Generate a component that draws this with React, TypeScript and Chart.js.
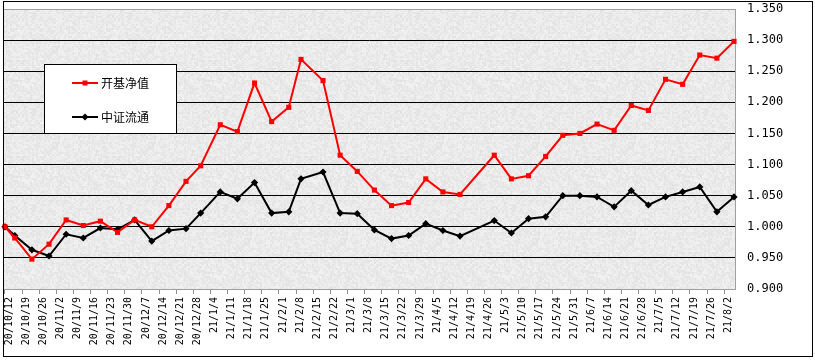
import React, { useEffect, useRef } from 'react';
import { Chart, registerables } from 'chart.js';

Chart.register(...registerables);

// ---- data ----
const seriesNames = ['开基净值', '中证流通'];

const pointDates = [
  '2020-10-12', '2020-10-16', '2020-10-23', '2020-10-30', '2020-11-06', '2020-11-13',
  '2020-11-20', '2020-11-27', '2020-12-04', '2020-12-11', '2020-12-18', '2020-12-25',
  '2020-12-31', '2021-01-08', '2021-01-15', '2021-01-22', '2021-01-29', '2021-02-05',
  '2021-02-10', '2021-02-19', '2021-02-26', '2021-03-05', '2021-03-12', '2021-03-19',
  '2021-03-26', '2021-04-02', '2021-04-09', '2021-04-16', '2021-04-30', '2021-05-07',
  '2021-05-14', '2021-05-21', '2021-05-28', '2021-06-04', '2021-06-11', '2021-06-18',
  '2021-06-25', '2021-07-02', '2021-07-09', '2021-07-16', '2021-07-23', '2021-07-30',
  '2021-08-06',
];

const fundNav = [
  1.000, 0.982, 0.948, 0.972, 1.011, 1.002, 1.009, 0.991, 1.011, 1.000, 1.034, 1.073,
  1.098, 1.164, 1.153, 1.231, 1.169, 1.192, 1.269, 1.235, 1.115, 1.089, 1.059, 1.034,
  1.039, 1.077, 1.056, 1.052, 1.115, 1.077, 1.082, 1.113, 1.147, 1.150, 1.165, 1.155,
  1.195, 1.187, 1.237, 1.229, 1.276, 1.271, 1.298,
];

const csiIndex = [
  1.000, 0.986, 0.963, 0.953, 0.988, 0.982, 0.998, 0.996, 1.011, 0.977, 0.994, 0.997,
  1.022, 1.056, 1.045, 1.071, 1.022, 1.024, 1.077, 1.088, 1.022, 1.021, 0.995, 0.981,
  0.986, 1.005, 0.994, 0.985, 1.010, 0.990, 1.013, 1.016, 1.050, 1.050, 1.048, 1.032,
  1.058, 1.035, 1.048, 1.056, 1.064, 1.024, 1.048,
];

const tickLabels = [
  '20/10/12', '20/10/19', '20/10/26', '20/11/2', '20/11/9', '20/11/16', '20/11/23',
  '20/11/30', '20/12/7', '20/12/14', '20/12/21', '20/12/28', '21/1/4', '21/1/11',
  '21/1/18', '21/1/25', '21/2/1', '21/2/8', '21/2/15', '21/2/22', '21/3/1', '21/3/8',
  '21/3/15', '21/3/22', '21/3/29', '21/4/5', '21/4/12', '21/4/19', '21/4/26', '21/5/3',
  '21/5/10', '21/5/17', '21/5/24', '21/5/31', '21/6/7', '21/6/14', '21/6/21', '21/6/28',
  '21/7/5', '21/7/12', '21/7/19', '21/7/26', '21/8/2',
];

const yMin = 0.9;
const yMax = 1.35;
const yStep = 0.05;

// ---- helpers ----
const DAY = 86400000;
const ORIGIN = Date.UTC(2020, 9, 12);
const dayOfIso = (s: string) => {
  const [y, m, d] = s.split('-').map(Number);
  return Math.round((Date.UTC(y, m - 1, d) - ORIGIN) / DAY);
};
const dayOfLabel = (s: string) => {
  const [y, m, d] = s.split('/').map(Number);
  return Math.round((Date.UTC(2000 + y, m - 1, d) - ORIGIN) / DAY);
};

const labelDays = tickLabels.map(dayOfLabel);
const pointDays = pointDates.map(dayOfIso);

// deterministic grey speckle texture for the plot background (styling only)
let texture: CanvasPattern | null = null;
const makeTexture = (ctx: CanvasRenderingContext2D) => {
  if (texture) return texture;
  const size = 96;
  const c = document.createElement('canvas');
  c.width = size;
  c.height = size;
  const g = c.getContext('2d')!;
  const img = g.createImageData(size, size);
  const hash = (x: number, y: number) => {
    let h = (x * 374761393 + y * 668265263) | 0;
    h = (h ^ (h >>> 13)) * 1274126177;
    h = h ^ (h >>> 16);
    return ((h >>> 0) % 1000) / 1000;
  };
  for (let y = 0; y < size; y++) {
    for (let x = 0; x < size; x++) {
      const a = hash(x, y);
      const b = hash((x >> 1) + 500, (y >> 1) + 700);
      const v = Math.round(245 - a * 8 - b * 14);
      const i = (y * size + x) * 4;
      img.data[i] = v;
      img.data[i + 1] = v;
      img.data[i + 2] = v;
      img.data[i + 3] = 255;
    }
  }
  g.putImageData(img, 0, 0);
  texture = ctx.createPattern(c, 'repeat');
  return texture;
};

const frameAndLegend = {
  id: 'frameAndLegend',
  beforeDraw(chart: any) {
    const { ctx, chartArea } = chart;
    ctx.save();
    ctx.fillStyle = '#ffffff';
    ctx.fillRect(0, 0, chart.width, chart.height);
    ctx.fillStyle = makeTexture(ctx) || '#e9e9e9';
    ctx.fillRect(chartArea.left, chartArea.top, chartArea.right - chartArea.left, chartArea.bottom - chartArea.top);
    ctx.restore();
  },
  afterDraw(chart: any) {
    const { ctx } = chart;
    ctx.save();
    // outer frame
    ctx.strokeStyle = '#000000';
    ctx.lineWidth = 1;
    ctx.strokeRect(3.5, 1.5, 809, 355);
    // legend box
    const bx = 44.5, by = 64.5, bw = 132, bh = 69;
    ctx.fillStyle = '#ffffff';
    ctx.fillRect(bx, by, bw, bh);
    ctx.strokeRect(bx, by, bw, bh);
    const rows = [83, 117];
    chart.data.datasets.forEach((ds: any, i: number) => {
      const y = rows[i];
      ctx.strokeStyle = ds.borderColor;
      ctx.lineWidth = 2;
      ctx.beginPath();
      ctx.moveTo(72, y);
      ctx.lineTo(98, y);
      ctx.stroke();
      ctx.fillStyle = ds.backgroundColor;
      if (ds.pointStyle === 'rect') {
        ctx.fillRect(85 - 2.5, y - 2.5, 5, 5);
      } else {
        ctx.beginPath();
        ctx.moveTo(85, y - 3.5);
        ctx.lineTo(88.5, y);
        ctx.lineTo(85, y + 3.5);
        ctx.lineTo(81.5, y);
        ctx.closePath();
        ctx.fill();
      }
      ctx.fillStyle = '#000000';
      ctx.font = '12px "Noto Sans CJK SC", sans-serif';
      ctx.textBaseline = 'middle';
      ctx.textAlign = 'left';
      ctx.fillText(ds.label, 101, y);
    });
    ctx.restore();
  },
};

export default function App() {
  const ref = useRef<HTMLCanvasElement | null>(null);

  useEffect(() => {
    if (!ref.current) return;
    const chart = new Chart(ref.current, {
      type: 'line',
      data: {
        datasets: [
          {
            label: seriesNames[0],
            data: pointDays.map((d, i) => ({ x: d, y: fundNav[i] })),
            borderColor: '#ff0000',
            backgroundColor: '#ff0000',
            borderWidth: 2,
            pointStyle: 'rect',
            pointRadius: 3.6,
            pointBorderWidth: 0,
            tension: 0,
            clip: false as any,
          },
          {
            label: seriesNames[1],
            data: pointDays.map((d, i) => ({ x: d, y: csiIndex[i] })),
            borderColor: '#000000',
            backgroundColor: '#000000',
            borderWidth: 2,
            pointStyle: 'rectRot',
            pointRadius: 3.6,
            pointBorderWidth: 0,
            tension: 0,
            clip: false as any,
          },
        ],
      },
      options: {
        responsive: false,
        animation: false,
        layout: { padding: { left: 4, top: 9, right: 0, bottom: 0 } },
        plugins: {
          legend: { display: false },
          tooltip: { enabled: false },
        },
        scales: {
          x: {
            type: 'linear',
            min: -0.4,
            max: 298.4,
            afterBuildTicks: (scale: any) => {
              scale.ticks = labelDays.map((v) => ({ value: v }));
            },
            afterFit: (scale: any) => {
              scale.height = 71;
              scale.paddingLeft = 0;
              scale.paddingRight = 0;
            },
            grid: {
              display: true,
              drawOnChartArea: false,
              drawTicks: true,
              tickLength: 5,
              color: '#909090',
            },
            border: { display: true, color: '#a0a0a0' },
            ticks: {
              autoSkip: false,
              minRotation: 90,
              maxRotation: 90,
              padding: 3,
              labelOffset: 4,
              color: '#000000',
              font: { family: '"DejaVu Sans Mono", monospace', size: 10 },
              callback: (value: any) => {
                const idx = labelDays.indexOf(Math.round(Number(value)));
                return idx >= 0 ? tickLabels[idx] : '';
              },
            },
          },
          y: {
            position: 'right',
            min: yMin,
            max: yMax,
            afterFit: (scale: any) => {
              scale.width = 80;
              scale.paddingTop = 0;
              scale.paddingBottom = 0;
            },
            grid: {
              drawTicks: false,
              color: (ctx: any) => {
                const v = ctx.tick ? ctx.tick.value : 0;
                if (Math.abs(v - yMin) < 1e-6 || Math.abs(v - yMax) < 1e-6) return '#a0a0a0';
                return '#000000';
              },
              lineWidth: 1,
            },
            border: { display: true, color: '#a0a0a0' },
            ticks: {
              stepSize: yStep,
              padding: 12,
              color: '#000000',
              font: { family: '"DejaVu Sans Mono", monospace', size: 12 },
              callback: (value: any) => Number(value).toFixed(3),
            },
          },
        },
      },
      plugins: [frameAndLegend],
    });
    return () => chart.destroy();
  }, []);

  return (
    <div style={{ position: 'absolute', left: 0, top: 0, width: 815, height: 360 }}>
      <canvas ref={ref} width={815} height={360} style={{ width: 815, height: 360 }} />
    </div>
  );
}
